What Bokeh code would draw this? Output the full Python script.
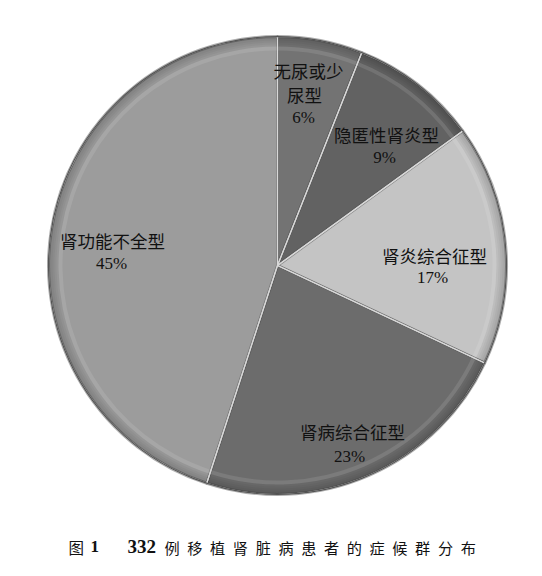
import math
from bokeh.plotting import figure
from bokeh.models import Range1d, ColumnDataSource
from bokeh.core.properties import value
from bokeh.embed import file_html
from bokeh.resources import INLINE

# ---- data ----
categories = ["无尿或少\n尿型", "隐匿性肾炎型", "肾炎综合征型", "肾病综合征型", "肾功能不全型"]
percents = [6, 9, 17, 23, 45]
pct_labels = ["6%", "9%", "17%", "23%", "45%"]
caption_fig = "图"
caption_fig_num = "1"
caption_num = "332"
caption_text = "例移植肾脏病患者的症候群分布"

# ---- style / layout ----
colors = ["#737373", "#626262", "#c4c4c4", "#6c6c6c", "#9c9c9c"]
W, H = 526, 560
cx, cy = 277, H - 265
R = 229
# label anchors (page px): first name line centre, pct centre
name_pos = [(308, 70), (386, 134), (434, 255), (352, 431), (112, 240)]
pct_pos = [(303, 117), (384, 157), (432, 277), (349, 456), (111, 263)]
LINE_GAP = 24

p = figure(width=W, height=H, output_backend="svg", toolbar_location=None,
           x_range=Range1d(0, W), y_range=Range1d(0, H), min_border=0)
p.axis.visible = False
p.grid.visible = False
p.outline_line_color = None
p.background_fill_color = "white"
p.border_fill_color = "white"

total = sum(percents)
starts, ends = [], []
cum = 0
for v in percents:
    starts.append(math.pi / 2 - 2 * math.pi * cum / total)
    cum += v
    ends.append(math.pi / 2 - 2 * math.pi * cum / total)

src = ColumnDataSource(dict(x=[cx] * len(percents), y=[cy] * len(percents),
                            start=starts, end=ends, color=colors))
p.wedge(x="x", y="y", radius=R, start_angle="start", end_angle="end",
        direction="clock", fill_color="color", line_color="#5a5a5a",
        line_width=3, line_alpha=0.5, source=src)
# bevel: darkening towards outer rim
for i in range(5):
    p.annular_wedge(x="x", y="y", inner_radius=R - 10 + i * 2, outer_radius=R,
                    start_angle="start", end_angle="end", direction="clock",
                    fill_color="black", fill_alpha=0.035, line_color=None,
                    source=src)
p.annular_wedge(x="x", y="y", inner_radius=R - 14, outer_radius=R - 10,
                start_angle="start", end_angle="end", direction="clock",
                fill_color="white", fill_alpha=0.10, line_color=None, source=src)
p.wedge(x="x", y="y", radius=R, start_angle="start", end_angle="end",
        direction="clock", fill_color=None, line_color="#d8d8d8",
        line_width=1.2, source=src)
p.circle(x=[cx], y=[cy], radius=R, fill_color=None, line_color="#555555",
         line_width=1.2)

# labels: split multi-line names into separate lines
lx, ly, lt = [], [], []
for (nx, ny), name in zip(name_pos, categories):
    lines = name.split("\n")
    for k, line in enumerate(lines):
        lx.append(nx - (4 * k if len(lines) > 1 else 0))
        ly.append(H - (ny + k * LINE_GAP))
        lt.append(line)
p.text(x=lx, y=ly, text=lt, text_align="center", text_baseline="middle",
       text_font=value("Noto Sans CJK SC"), text_font_size="17.5px",
       text_color="#111111")
p.text(x=[q[0] for q in pct_pos], y=[H - q[1] for q in pct_pos], text=pct_labels,
       text_align="center", text_baseline="middle",
       text_font=value("Liberation Serif"), text_font_size="17px",
       text_color="#111111")

# caption
cap_y = H - 546
p.text(x=[68], y=[cap_y], text=[caption_fig], text_align="left", text_baseline="middle",
       text_font=value("Noto Sans CJK SC"), text_font_size="15.5px", text_color="#111111")
p.text(x=[90], y=[cap_y], text=[caption_fig_num], text_align="left", text_baseline="middle",
       text_font=value("Liberation Serif"), text_font_style="bold",
       text_font_size="17px", text_color="#111111")
p.text(x=[127], y=[cap_y], text=[caption_num], text_align="left", text_baseline="middle",
       text_font=value("Liberation Serif"), text_font_style="bold",
       text_font_size="19px", text_color="#111111")
p.text(x=[164], y=[cap_y], text=["\u2002".join(caption_text)], text_align="left",
       text_baseline="middle", text_font=value("Noto Sans CJK SC"),
       text_font_size="15.2px", text_color="#111111")

open("out.html", "w").write(file_html(p, INLINE))
